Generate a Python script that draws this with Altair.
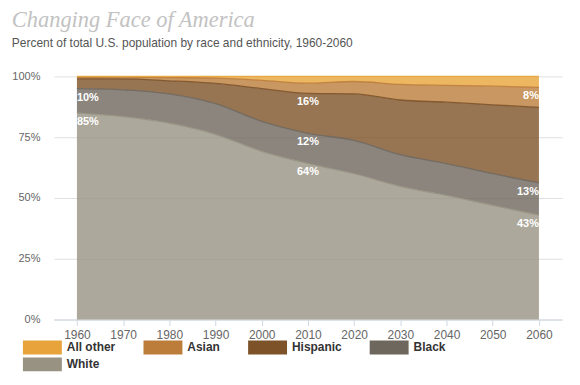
import altair as alt
import pandas as pd

years = [1960, 1970, 1980, 1990, 2000, 2010, 2020, 2030, 2040, 2050, 2060]
white = [85.0, 83.5, 80.8, 76.2, 69.2, 64.2, 60.0, 54.8, 51.1, 47.0, 43.0]
black = [10.0, 11.0, 12.0, 12.6, 12.3, 12.4, 13.7, 13.0, 13.0, 13.0, 13.2]
hispanic = [4.0, 4.5, 5.4, 8.3, 13.5, 16.4, 19.1, 22.5, 25.3, 28.3, 31.1]
asian = [0.6, 0.7, 1.3, 2.2, 3.4, 4.2, 5.1, 6.4, 6.9, 7.7, 8.2]
other = [0.4, 0.3, 0.5, 0.7, 1.6, 2.8, 2.1, 3.3, 3.7, 4.0, 4.5]

stack_order = ["White", "Black", "Hispanic", "Asian", "All other"]
stack_values = [white, black, hispanic, asian, other]
legend_order = ["All other", "Asian", "Hispanic", "Black", "White"]
legend_colors = ["#E8A43A", "#BC7D3A", "#7D5228", "#6E675E", "#979282"]

label_years = [1960, 1960, 2010, 2010, 2010, 2060, 2060, 2060]
label_series = ["Black", "White", "Hispanic", "Black", "White", "Asian", "Black", "White"]
label_texts = ["10%", "85%", "16%", "12%", "64%", "8%", "13%", "43%"]

rows = []
tops = {}
for i, yr in enumerate(years):
    cum = 0.0
    for k, name in enumerate(stack_order):
        lo = cum
        cum += stack_values[k][i]
        rows.append({"year": yr, "series": name, "value": stack_values[k][i],
                     "lo": lo, "hi": cum, "rank": k})
        tops[(yr, name)] = cum
df = pd.DataFrame(rows)

lab = pd.DataFrame({
    "year": label_years,
    "series": label_series,
    "text": label_texts,
    "hi": [tops[(y, s)] for y, s in zip(label_years, label_series)],
})

xscale = alt.Scale(domain=[1955, 2065], nice=False, zero=False)
yscale = alt.Scale(domain=[0, 100], nice=False)
cscale = alt.Scale(domain=legend_order, range=legend_colors)

xaxis = alt.Axis(values=years, format="d", title=None, grid=False,
                 domainColor="#cfd8e3", tickColor="#cfd8e3", tickSize=6,
                 labelFont="Liberation Sans", labelFontSize=12, labelColor="#666",
                 labelPadding=4)
yaxis = alt.Axis(values=[0, 25, 50, 75, 100], labelExpr="datum.value + '%'",
                 title=None, domain=False, ticks=False, grid=True,
                 gridColor="#e0e0e0", labelFont="Liberation Sans", labelFontSize=11,
                 labelColor="#666", labelPadding=14)

base = alt.Chart(df)

area = base.mark_area(opacity=0.8, interpolate="monotone").encode(
    x=alt.X("year:Q", scale=xscale, axis=xaxis),
    y=alt.Y("hi:Q", scale=yscale, axis=yaxis),
    y2="lo:Q",
    color=alt.Color("series:N", scale=cscale, legend=alt.Legend(
        orient="none", legendX=-18.5, legendY=265, direction="horizontal",
        columns=4, title=None, symbolType="M-2.79,-1H2.79V1H-2.79Z",
        symbolSize=196, symbolOpacity=1, symbolStrokeWidth=0,
        labelFont="Liberation Sans", labelFontSize=12, labelFontWeight="bold",
        labelColor="#333", columnPadding=27, rowPadding=3, labelOffset=17.5)),
    order=alt.Order("rank:Q"),
)

line = base.mark_line(interpolate="monotone", strokeWidth=1.3, opacity=0.9).encode(
    x=alt.X("year:Q", scale=xscale),
    y=alt.Y("hi:Q", scale=yscale),
    color=alt.Color("series:N", scale=cscale, legend=None),
    detail="series:N",
)

def text_layer(cond, align):
    return alt.Chart(lab).transform_filter(cond).mark_text(
        color="white", fontWeight="bold", fontSize=11, font="Liberation Sans",
        baseline="middle", align=align, dy=9,
    ).encode(
        x=alt.X("year:Q", scale=xscale),
        y=alt.Y("hi:Q", scale=yscale),
        text="text:N",
    )

t_left = text_layer("datum.year == 1960", "left")
t_mid = text_layer("datum.year == 2010", "center")
t_right = text_layer("datum.year == 2060", "right")

chart = alt.layer(area, line, t_left, t_mid, t_right).properties(
    width=510,
    height=244,
    autosize=alt.AutoSizeParams(type="none"),
    padding={"left": 46, "top": 68, "right": 10, "bottom": 55},
    title=alt.TitleParams(
        text="Changing Face of America",
        subtitle="Percent of total U.S. population by race and ethnicity, 1960-2060",
        anchor="start", font="Liberation Serif", fontSize=22.5, fontStyle="italic",
        fontWeight="normal", color="#c2c2c2",
        subtitleFont="Liberation Sans", subtitleFontSize=12, subtitleColor="#555",
        subtitlePadding=6, offset=22,
    ),
).configure_view(stroke=None)

chart.save("out.html", embed_options={"renderer": "svg", "actions": False})
